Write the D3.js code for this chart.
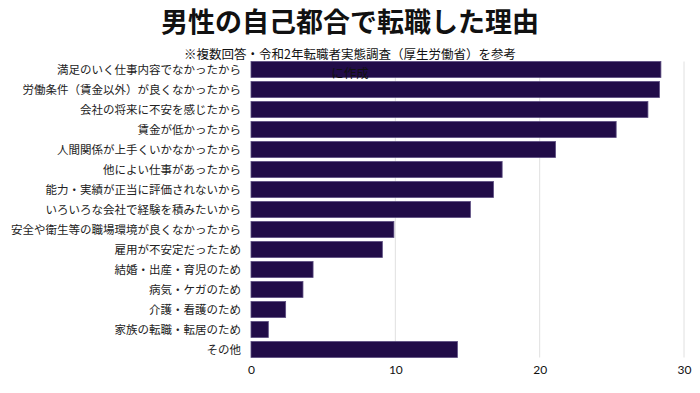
<!DOCTYPE html>
<html>
<head>
<meta charset="utf-8">
<script src="https://cdn.jsdelivr.net/npm/d3@7"></script>
<style>
  body { margin: 0; background: #fff; }
  svg { display: block; font-family: "Noto Sans CJK JP", "Noto Sans", sans-serif; }
</style>
</head>
<body>
<svg id="chart"></svg>
<script>
const reasons = [
  "満足のいく仕事内容でなかったから",
  "労働条件（賃金以外）が良くなかったから",
  "会社の将来に不安を感じたから",
  "賃金が低かったから",
  "人間関係が上手くいかなかったから",
  "他によい仕事があったから",
  "能力・実績が正当に評価されないから",
  "いろいろな会社で経験を積みたいから",
  "安全や衛生等の職場環境が良くなかったから",
  "雇用が不安定だったため",
  "結婚・出産・育児のため",
  "病気・ケガのため",
  "介護・看護のため",
  "家族の転職・転居のため",
  "その他",
];
const shares = [28.4, 28.3, 27.5, 25.3, 21.1, 17.4, 16.8, 15.2, 9.9, 9.1, 4.3, 3.6, 2.4, 1.2, 14.3];
const xTicks = [0, 10, 20, 30];
const titleText = "男性の自己都合で転職した理由";
const noteLines = ["※複数回答・令和2年転職者実態調査（厚生労働省）を参考", "に作成"];

const width = 700;
const height = 393;
const margin = { top: 59.5, right: 16, bottom: 33.5, left: 251 };

const data = reasons.map((r, i) => ({ reason: r, value: shares[i] }));

const svg = d3.select("#chart").attr("width", width).attr("height", height)
  .attr("viewBox", [0, 0, width, height]);

const x = d3.scaleLinear().domain([0, 30]).range([margin.left, 684]);
const y = d3.scaleBand()
  .domain(reasons)
  .range([margin.top, height - margin.bottom])
  .paddingInner(0.2)
  .paddingOuter(0.1);

// grid lines
svg.append("g")
  .selectAll("line")
  .data(xTicks.slice(1))
  .join("line")
  .attr("x1", d => x(d)).attr("x2", d => x(d))
  .attr("y1", y.range()[0] + 2).attr("y2", y.range()[1] - 2)
  .attr("stroke", "#e0e0e0")
  .attr("stroke-width", 1);

// bars
svg.append("g")
  .selectAll("rect")
  .data(data)
  .join("rect")
  .attr("x", x(0))
  .attr("y", d => y(d.reason))
  .attr("width", d => x(d.value) - x(0))
  .attr("height", y.bandwidth())
  .attr("fill", "#210c48")
  .attr("stroke", "#5b4c80")
  .attr("stroke-width", 0.8);

// category labels
svg.append("g")
  .selectAll("text")
  .data(data)
  .join("text")
  .attr("x", 241)
  .attr("y", d => y(d.reason) + y.bandwidth() / 2)
  .attr("dy", "0.36em")
  .attr("text-anchor", "end")
  .attr("font-size", 11.5)
  .attr("fill", "#222")
  .text(d => d.reason);

// x axis
const xAxis = svg.append("g")
  .attr("transform", `translate(0 ${y.range()[1]})`)
  .call(d3.axisBottom(x).tickValues(xTicks).tickSize(0).tickPadding(6));
xAxis.select(".domain").remove();
xAxis.selectAll("text")
  .attr("font-family", "Lato, 'Open Sans', sans-serif")
  .attr("font-size", 12)
  .attr("fill", "#111");

// title
svg.append("text")
  .attr("x", width / 2)
  .attr("y", 32)
  .attr("text-anchor", "middle")
  .attr("font-size", 27)
  .attr("font-weight", "bold")
  .attr("fill", "#111")
  .text(titleText);

// note (wraps onto the first bar, as in the original)
svg.append("g")
  .selectAll("text")
  .data(noteLines)
  .join("text")
  .attr("x", width / 2)
  .attr("y", (d, i) => 58.5 + i * 19)
  .attr("text-anchor", "middle")
  .attr("font-size", 12.5)
  .attr("fill", "#111")
  .text(d => d);
</script>
</body>
</html>
